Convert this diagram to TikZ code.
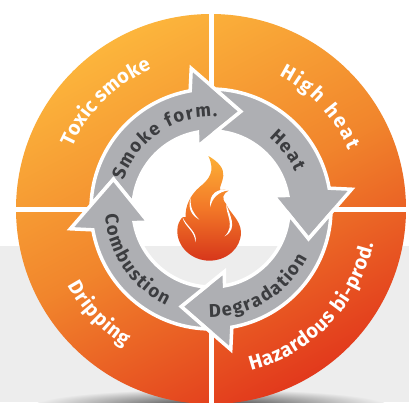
\documentclass[tikz,border=0pt]{standalone}
\usepackage{fontspec}
\setmainfont{Fira Sans}
\usetikzlibrary{decorations.text}
\definecolor{bgband}{HTML}{EDEDED}
\definecolor{arrowgray}{HTML}{AEAFB3}
\definecolor{labelgray}{HTML}{3C3D40}
\definecolor{diskhigh}{HTML}{FCB53C}
\definecolor{diskmid}{HTML}{F1852C}
\definecolor{disklow}{HTML}{E2391C}
\newcommand{\outerlabel}{\fontsize{20}{22}\selectfont\bfseries\color{white}}
\newcommand{\innerlabel}{\fontsize{18.5}{21}\selectfont\bfseries\color{labelgray}}

\begin{document}
\begin{tikzpicture}[x=1pt, y=1pt,
    cycle_arrow/.style = {fill=arrowgray, draw=white, line width=3.5pt, line join=miter},
    ring_label/.style = {decorate, decoration={text along path, text align=fit to path, text={#1}}}]

\useasboundingbox (-211,-193) rectangle (198,209);

% background band
\fill[white] (-211,-193) rectangle (198,209);
\fill[bgband] (-211,-193) rectangle (198,-37);

% soft shadow under the disk
\begin{scope}
    \clip (-211,-193) rectangle (198,209);
    \shade[inner color=black!75, outer color=bgband] (0,-196) ellipse (175 and 16);
\end{scope}

% orange ring
\shade[even odd rule, top color=diskhigh, bottom color=disklow, middle color=diskmid, shading angle=28]
    (0,0) circle (195) (0,0) circle (120);

% white cross
\fill[white] (-2.5,120) rectangle (2.5,196);
\fill[white] (-2.5,-120) rectangle (2.5,-196);
\fill[white] (-196,-2.5) rectangle (-120,2.5);
\fill[white] (196,-2.5) rectangle (120,2.5);

% four arrows of the cycle
\foreach \turn in {0,-90,-180,-270} {
    \draw[cycle_arrow, rotate=\turn] (178:120) arc[start angle=178, end angle=100, radius=120]
        -- (98:142) -- (73:102) -- (102:64) -- (100:78)
        arc[start angle=100, end angle=176, radius=78] -- (163:102) -- cycle;
}

% labels on the orange ring
\path[ring_label={|\outerlabel|Toxic smoke}] (156:152) arc[start angle=156, end angle=113, radius=152];
\path[ring_label={|\outerlabel|High heat}] (63:150) arc[start angle=63, end angle=23, radius=150];
\path[ring_label={|\outerlabel|Hazardous bi-prod.}] (-76:166) arc[start angle=-76, end angle=-12, radius=166];
\path[ring_label={|\outerlabel|Dripping}] (208:162) arc[start angle=208, end angle=238, radius=162];

% labels on the arrows
\path[ring_label={|\innerlabel|Smoke form.}] (162:92) arc[start angle=162, end angle=86, radius=92];
\path[ring_label={|\innerlabel|Heat}] (51:92) arc[start angle=51, end angle=24, radius=92];
\path[ring_label={|\innerlabel|Degradation}] (-91:108) arc[start angle=-91, end angle=-27, radius=108];
\path[ring_label={|\innerlabel|Combustion}] (183:106) arc[start angle=183, end angle=245, radius=106];

% flame
\begin{scope}[shift={(-51,64)}, x=0.3333pt, y=-0.3333pt]
    \shade[top color=diskhigh!90!orange, bottom color=disklow!95!black, middle color=diskmid!90!red]
        (145,33) .. controls (175,50) and (192,70) .. (190,92)
        .. controls (188,112) and (178,125) .. (180,135)
        .. controls (188,133) and (198,134) .. (206,137)
        .. controls (190,145) and (183,160) .. (198,176)
        .. controls (210,205) and (242,225) .. (243,262)
        .. controls (243,310) and (200,347) .. (148,347)
        .. controls (95,347) and (50,305) .. (52,255)
        .. controls (52,238) and (60,225) .. (67,217)
        .. controls (70,215) and (74,217) .. (77,216)
        .. controls (75,185) and (90,150) .. (120,125)
        .. controls (145,105) and (168,80) .. (145,33) -- cycle;
    % white licks inside the flame
    \fill[white] (92,158) .. controls (82,190) and (95,212) .. (118,224)
        .. controls (100,205) and (90,190) .. (92,158) -- cycle;
    \fill[white] (68,217) .. controls (72,245) and (105,255) .. (106,292)
        .. controls (115,262) and (80,245) .. (68,217) -- cycle;
    \fill[white] (206,136) .. controls (175,128) and (145,145) .. (151,187)
        .. controls (155,160) and (175,140) .. (206,136) -- cycle;
    \fill[white] (199,176) .. controls (195,205) and (228,240) .. (194,274)
        .. controls (238,250) and (205,205) .. (199,176) -- cycle;
\end{scope}

\end{tikzpicture}
\end{document}
